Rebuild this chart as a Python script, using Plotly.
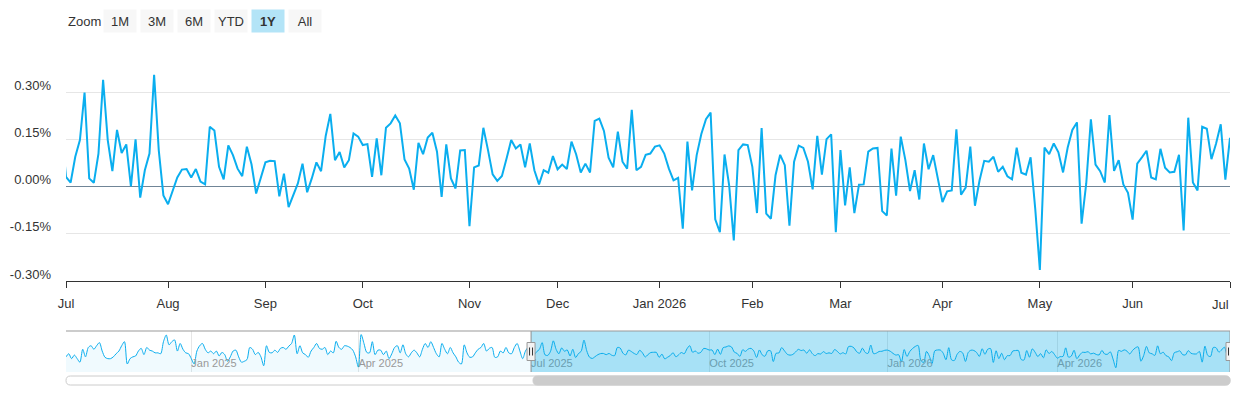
"""
Daily change (%) with a Highcharts-stock style navigator, redrawn in Plotly.
"""

import pandas as pd
import plotly.graph_objects as go

# --- data ---------------------------------------------------------------

# market holidays (no point on these days, axis skips them like an ordinal axis)
HOLIDAYS = [
    "2024-11-28", "2024-12-25", "2025-01-01", "2025-01-09", "2025-01-20",
    "2025-02-17", "2025-04-18", "2025-05-26", "2025-06-19", "2025-07-04",
    "2025-09-01", "2025-11-27", "2025-12-25", "2026-01-01", "2026-01-19",
    "2026-02-16", "2026-04-03", "2026-05-25", "2026-06-19",
]

# daily change in %, late Oct 2024 .. Jun 2025 (only visible in the navigator)
EARLY_VALUES = [
    -0.02, 0.05, -0.06, 0.02, -0.06, -0.14, 0.15, -0.02, 0.19, 0.23,
    0.15, 0.23, 0.30, 0.11, -0.03, -0.06, -0.06, -0.02, 0.05, 0.11,
    0.23, 0.32, -0.18, -0.06, -0.02, 0.00, 0.11, 0.17, 0.03, 0.19,
    0.13, 0.11, 0.07, 0.07, 0.05, 0.32, 0.47, 0.25, 0.32, 0.36,
    0.11, 0.28, 0.15, 0.07, 0.05, -0.06, -0.18, 0.11, 0.23, 0.28,
    0.15, 0.07, 0.11, 0.05, 0.11, 0.00, 0.08, 0.03, -0.12, -0.02,
    0.11, 0.13, -0.02, -0.14, -0.12, -0.08, 0.19, 0.15, 0.03, 0.08,
    -0.02, -0.22, 0.23, 0.08, 0.07, 0.13, 0.08, 0.17, 0.19, 0.15,
    0.22, 0.28, 0.47, 0.05, 0.23, 0.07, 0.03, -0.03, 0.11, 0.19,
    0.28, 0.17, 0.15, 0.19, 0.03, 0.11, 0.07, 0.33, 0.19, 0.15,
    0.23, 0.22, 0.19, 0.13, -0.02, -0.25, 0.48, 0.28, 0.08, 0.07,
    0.32, 0.03, 0.13, 0.13, 0.03, 0.11, -0.06, 0.05, 0.19, 0.23,
    0.07, 0.25, 0.05, -0.02, 0.07, 0.13, 0.07, -0.02, 0.15, 0.28,
    0.19, 0.32, 0.19, 0.05, -0.02, 0.28, 0.15, 0.05, 0.19, 0.07,
    -0.02, -0.14, -0.18, 0.25, 0.07, -0.03, -0.02, 0.07, 0.15, 0.19,
    0.28, 0.11, 0.17, 0.19, -0.03, -0.02, 0.11, 0.07, 0.19, 0.07,
    0.05, 0.19, 0.28, 0.11, -0.06, 0.11, 0.19,
]

# daily change in %, Jul 2025 .. Jul 2026 (the 1Y window)
MAIN_VALUES = [
    0.031, 0.013, 0.095, 0.148, 0.299, 0.026, 0.012, 0.105, 0.339, 0.148,
    0.049, 0.180, 0.107, 0.134, 0.001, 0.150, -0.035, 0.052, 0.105, 0.355,
    0.116, -0.028, -0.056, -0.015, 0.029, 0.054, 0.056, 0.029, 0.056, 0.016,
    0.007, 0.190, 0.178, 0.063, 0.023, 0.131, 0.100, 0.057, 0.033, 0.127,
    0.071, -0.022, 0.031, 0.077, 0.082, 0.081, -0.031, 0.041, -0.065, -0.030,
    0.010, 0.073, -0.018, 0.026, 0.077, 0.049, 0.161, 0.231, 0.084, 0.110,
    0.061, 0.084, 0.169, 0.159, 0.132, 0.135, 0.031, 0.153, 0.036, 0.187,
    0.201, 0.226, 0.201, 0.086, 0.057, -0.010, 0.139, 0.103, 0.156, 0.171,
    0.111, -0.033, 0.134, 0.026, -0.006, 0.115, 0.116, -0.126, 0.061, 0.067,
    0.187, 0.116, 0.039, 0.018, 0.034, 0.089, 0.148, 0.121, 0.134, 0.061,
    0.137, 0.052, 0.007, 0.052, 0.044, 0.097, 0.055, 0.070, 0.056, 0.143,
    0.103, 0.045, 0.073, 0.045, 0.209, 0.216, 0.177, 0.092, 0.061, 0.175,
    0.079, 0.057, 0.244, 0.052, 0.063, 0.101, 0.105, 0.127, 0.131, 0.105,
    0.057, 0.020, 0.028, -0.134, 0.143, -0.012, 0.100, 0.167, 0.214, 0.235,
    -0.104, -0.145, 0.102, 0.004, -0.171, 0.116, 0.134, 0.132, 0.063, -0.084,
    0.186, -0.086, -0.102, 0.036, 0.101, 0.068, -0.124, 0.079, 0.130, 0.123,
    0.079, -0.009, 0.161, 0.038, 0.151, 0.166, -0.145, 0.116, -0.060, 0.061,
    -0.084, 0.006, 0.007, 0.111, 0.121, 0.123, -0.078, -0.092, 0.121, -0.029,
    0.159, 0.084, -0.014, 0.052, -0.041, 0.137, 0.055, 0.100, 0.031, -0.049,
    -0.015, -0.012, 0.182, -0.026, -0.003, 0.127, -0.061, 0.020, 0.082, 0.079,
    0.095, 0.047, 0.063, 0.033, 0.023, 0.124, 0.044, 0.038, 0.093, -0.070,
    -0.265, 0.124, 0.103, 0.137, 0.109, 0.045, 0.124, 0.180, 0.204, -0.118,
    0.010, 0.214, 0.070, 0.049, 0.013, 0.227, 0.050, 0.084, 0.007, -0.020,
    -0.105, 0.073, 0.093, 0.114, 0.029, 0.023, 0.120, 0.060, 0.045, 0.047,
    0.101, -0.139, 0.219, 0.013, -0.012, 0.190, 0.184, 0.087, 0.137, 0.198,
    0.022, 0.155,
]

MAIN_TICK_DATES = [
    "2025-07-01", "2025-08-01", "2025-09-02", "2025-10-01", "2025-11-03",
    "2025-12-01", "2026-01-02", "2026-02-02", "2026-03-02", "2026-04-01",
    "2026-05-01", "2026-06-01", "2026-07-01",
]
MAIN_TICK_LABELS = ["Jul", "Aug", "Sep", "Oct", "Nov", "Dec", "Jan 2026",
                    "Feb", "Mar", "Apr", "May", "Jun", "Jul"]

NAV_TICK_DATES = ["2025-01-02", "2025-04-01", "2025-07-01",
                  "2025-10-01", "2026-01-02", "2026-04-01"]
NAV_TICK_LABELS = ["Jan 2025", "Apr 2025", "Jul 2025",
                   "Oct 2025", "Jan 2026", "Apr 2026"]

Y_TICKS = [-0.30, -0.15, 0.0, 0.15, 0.30, 0.45]
Y_TICK_LABELS = ["-0.30%", "-0.15%", "0.00%", "0.15%", "0.30%", ""]

ZOOM_BUTTONS = ["1M", "3M", "6M", "YTD", "1Y", "All"]
ACTIVE_BUTTON = "1Y"

VIEW_START, VIEW_END = "2025-07-01", "2026-07-01"

# --- styling -------------------------------------------------------------

FONT = "Liberation Sans, Arial, sans-serif"
LINE_COLOR = "#0aaeef"
NAV_MIN, NAV_MAX = -0.36, 0.56

# The page puts the plot div 8px in from the top-left (default body margin),
# so the figure is 8px smaller and everything below is given in page pixels.
OFF = 8
W, H = 1240 - OFF, 400 - OFF
# plot area on the page: x 66..1230, y 45..385
PL, PR, PT, PB = 66, 1230, 45, 385
L, T = PL - OFF, PT - OFF
R, B = W - (PR - OFF), H - (PB - OFF)


def py(y_px):
    """page pixel row -> paper y"""
    return (PB - y_px) / (PB - PT)


def px(x_px):
    """page pixel column -> paper x"""
    return (x_px - PL) / (PR - PL)


values = EARLY_VALUES + MAIN_VALUES
all_days = pd.bdate_range("2024-09-01", VIEW_END, freq="C", holidays=HOLIDAYS)
dates = all_days[-len(values):]

breaks = [dict(bounds=["sat", "mon"]), dict(values=HOLIDAYS)]

fig = go.Figure()

# main series
fig.add_trace(go.Scatter(
    x=dates, y=values, mode="lines",
    line=dict(color=LINE_COLOR, width=2),
    xaxis="x", yaxis="y", hoverinfo="skip", showlegend=False,
))

# navigator: baseline + filled spline area
fig.add_trace(go.Scatter(
    x=dates, y=[NAV_MIN] * len(dates), mode="lines",
    line=dict(width=0), xaxis="x2", yaxis="y2",
    hoverinfo="skip", showlegend=False,
))
fig.add_trace(go.Scatter(
    x=dates, y=values, mode="lines", fill="tonexty",
    fillcolor="rgba(0,170,230,0.06)",
    line=dict(color=LINE_COLOR, width=1, shape="spline", smoothing=0.8),
    xaxis="x2", yaxis="y2", hoverinfo="skip", showlegend=False,
))

nav_dom = [py(372), py(331)]

# last "Jul" is drawn as an annotation so it can sit inside the page edge
main_ticktext = MAIN_TICK_LABELS[:-1] + [""]

fig.update_layout(
    width=W, height=H,
    margin=dict(l=L, r=R, t=T, b=B, autoexpand=False),
    paper_bgcolor="white", plot_bgcolor="white",
    font=dict(family=FONT, size=13, color="#333333"),
    xaxis=dict(
        type="date", domain=[0, 1], anchor="y", automargin=False,
        range=[VIEW_START, VIEW_END], rangebreaks=breaks,
        tickmode="array", tickvals=MAIN_TICK_DATES, ticktext=main_ticktext,
        ticks="outside", ticklen=6, tickcolor="#333333",
        showline=True, linecolor="#333333", linewidth=1,
        showgrid=False, zeroline=False,
        tickfont=dict(size=13, color="#333333"),
        ticklabelstandoff=4,
    ),
    yaxis=dict(
        domain=[py(281), 1], anchor="x", automargin=False,
        range=[-0.30, 0.45],
        tickmode="array", tickvals=Y_TICKS, ticktext=Y_TICK_LABELS,
        showgrid=True, gridcolor="#e6e6e6", gridwidth=1,
        zeroline=True, zerolinecolor="#708597", zerolinewidth=1,
        ticks="", ticklabelstandoff=14, ticklabelshift=-7,
        tickfont=dict(size=13, color="#333333"),
    ),
    xaxis2=dict(
        type="date", domain=[0, 1], anchor="y2", automargin=False,
        range=[dates[0], dates[-1]], rangebreaks=breaks,
        tickmode="array", tickvals=NAV_TICK_DATES, ticktext=NAV_TICK_LABELS,
        ticklabelposition="inside right", ticks="", ticklabelstandoff=-3,
        showgrid=True, gridcolor="#e6e6e6", gridwidth=1,
        showline=False, zeroline=False,
        tickfont=dict(size=11, color="#999999"),
    ),
    yaxis2=dict(
        domain=nav_dom, anchor="x2", range=[NAV_MIN, NAV_MAX], automargin=False,
        showgrid=False, zeroline=False, showticklabels=False, ticks="",
    ),
)

shapes = []

# selected window mask in the navigator
shapes.append(dict(
    type="rect", xref="x2", yref="paper",
    x0=VIEW_START, x1=VIEW_END, y0=nav_dom[0], y1=nav_dom[1],
    fillcolor="rgba(0,170,230,0.30)", line=dict(width=0), layer="above",
))
# navigator outline
shapes.append(dict(
    type="line", xref="paper", yref="paper", x0=0, x1=1,
    y0=nav_dom[1], y1=nav_dom[1], line=dict(color="#999999", width=1),
))
for d in (VIEW_START, VIEW_END):
    shapes.append(dict(
        type="line", xref="x2", yref="paper", x0=d, x1=d,
        y0=nav_dom[0], y1=nav_dom[1], line=dict(color="#999999", width=1),
    ))
    # handle
    shapes.append(dict(
        type="rect", xref="x2", yref="paper",
        xsizemode="pixel", ysizemode="pixel", xanchor=d, yanchor=py(351.5),
        x0=-4, x1=4, y0=-9, y1=9,
        fillcolor="#f2f2f2", line=dict(color="#999999", width=1),
    ))
    for dx in (-1.5, 1.5):
        shapes.append(dict(
            type="line", xref="x2", yref="paper",
            xsizemode="pixel", ysizemode="pixel", xanchor=d, yanchor=py(351.5),
            x0=dx, x1=dx, y0=-4, y1=4,
            line=dict(color="#333333", width=1),
        ))


def rounded_bar(x0_px, x1_px, y0_px, y1_px):
    r = (y1_px - y0_px) / 2
    pts = [
        f"M {px(x0_px + r)} {py(y0_px)}",
        f"L {px(x1_px - r)} {py(y0_px)}",
        f"Q {px(x1_px)} {py(y0_px)} {px(x1_px)} {py(y0_px + r)}",
        f"Q {px(x1_px)} {py(y1_px)} {px(x1_px - r)} {py(y1_px)}",
        f"L {px(x0_px + r)} {py(y1_px)}",
        f"Q {px(x0_px)} {py(y1_px)} {px(x0_px)} {py(y0_px + r)}",
        f"Q {px(x0_px)} {py(y0_px)} {px(x0_px + r)} {py(y0_px)}",
        "Z",
    ]
    return " ".join(pts)


# scrollbar track and thumb
shapes.append(dict(
    type="path", xref="paper", yref="paper",
    path=rounded_bar(66, 1230, 376, 385),
    fillcolor="white", line=dict(color="#cccccc", width=1),
))
shapes.append(dict(
    type="path", xref="paper", yref="paper",
    path=rounded_bar(533, 1230, 376, 385),
    fillcolor="#cccccc", line=dict(color="#cccccc", width=1),
))

fig.update_layout(shapes=shapes)

# range selector look-alike
btn_y = py(21)
annotations = [dict(
    text="Zoom", xref="paper", yref="paper", x=px(66), y=btn_y,
    xanchor="left", yanchor="middle", showarrow=False,
    font=dict(size=13, color="#333333"),
)]
btn_centers = [120, 156.7, 194, 231, 268, 305]
for label, cx in zip(ZOOM_BUTTONS, btn_centers):
    active = label == ACTIVE_BUTTON
    annotations.append(dict(
        text=f"<b>{label}</b>" if active else label,
        xref="paper", yref="paper", x=px(cx), y=btn_y,
        xanchor="center", yanchor="middle", showarrow=False,
        width=32, height=22, borderpad=0,
        bgcolor="#b3e4f7" if active else "#f7f7f7",
        font=dict(size=13, color="#333333"),
    ))

# final month label, kept inside the page like Highcharts does
annotations.append(dict(
    text=MAIN_TICK_LABELS[-1], xref="paper", yref="paper",
    x=px(1231), y=py(304), xanchor="right", yanchor="middle",
    showarrow=False, font=dict(size=13, color="#333333"),
))
fig.update_layout(annotations=annotations)

fig.write_html("out.html")
